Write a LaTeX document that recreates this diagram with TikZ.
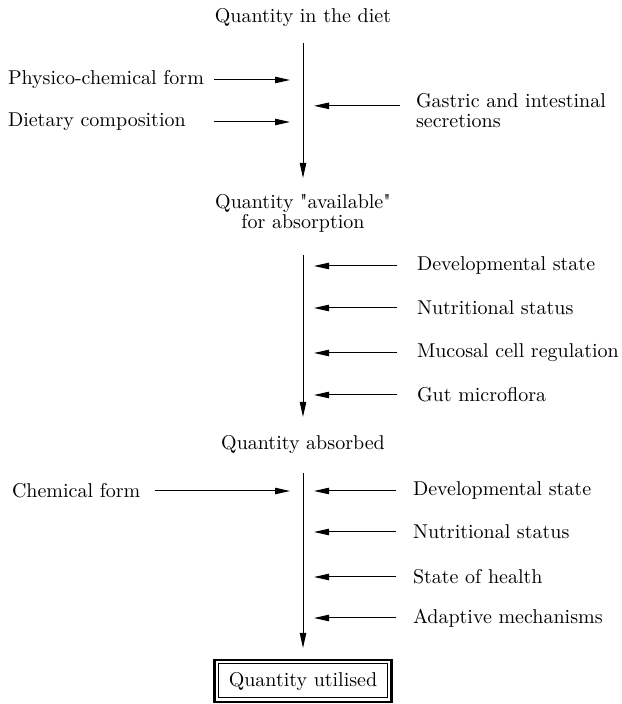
\documentclass[tikz,border=0pt]{standalone}
\usepackage{tikz}
\usetikzlibrary{arrows.meta,calc}
\tikzstyle{stage}=[inner sep=0pt, outer sep=0pt, align=center]
\tikzstyle{factor}=[inner sep=0pt, outer sep=0pt, anchor=west, align=left]
\tikzstyle{flow}=[line width=0.5pt, -{Triangle[length=7.5pt,width=3.2pt]}]
\tikzstyle{endbox}=[stage, draw, line width=1.2pt, minimum width=88.5pt, minimum height=21pt]

\begin{document}
\begin{tikzpicture}[x=0.5pt,y=0.5pt]
          \useasboundingbox (0,0) rectangle (621,704);
          % columns of the side arrows
          \coordinate (ltip) at (290,0);
          \coordinate (rtip) at (314,0);
          \coordinate (lstart) at (214,0);
          \coordinate (cstart) at (155,0);
          % stages
          \node[stage] (diet) at (303,686) {Quantity in the diet};
          \node[stage] (avail) at (303,491) {Quantity \textquotedbl available\textquotedbl\\[-2pt]for absorption};
          \node[stage] (absorbed) at (303,259) {Quantity absorbed};
          \node[endbox] (util) at (303,23) {Quantity utilised};
          \draw[line width=0.5pt] ([shift={(2pt,2pt)}]util.south west) rectangle ([shift={(-2pt,-2pt)}]util.north east);
          % main flow
          \draw[flow, shorten <=8pt, shorten >=8pt] (diet) -- (avail);
          \draw[flow, shorten <=11.5pt, shorten >=9.5pt] (avail) -- (absorbed);
          \draw[flow, shorten <=9.5pt, shorten >=6pt] (absorbed) -- (util);
          % stage 1
          \node[factor] (phys) at (8,624) {Physico-chemical form};
          \node[factor] (comp) at (8,582) {Dietary composition};
          \node[factor] (gastric) at (416,593) {Gastric and intestinal\\[-2pt]secretions};
          \draw[flow] (phys.east -| lstart) -- (phys.east -| ltip);
          \draw[flow] (comp.east -| lstart) -- (comp.east -| ltip);
          \draw[flow] ([shift={(-8pt,-6pt)}]gastric.north west) coordinate (gin) -- (gin -| rtip);
          % stage 2
          \node[factor] (dev1) at (417,438) {Developmental state};
          \node[factor] (nut1) at (417,396) {Nutritional status};
          \node[factor] (muc) at (417,351) {Mucosal cell regulation};
          \node[factor] (gut) at (417,309) {Gut microflora};
          \draw[flow] ([xshift=-10pt]dev1.west) -- (dev1.west -| rtip);
          \draw[flow] ([xshift=-10pt]nut1.west) -- (nut1.west -| rtip);
          \draw[flow] ([xshift=-10pt]muc.west) -- (muc.west -| rtip);
          \draw[flow] ([xshift=-10pt]gut.west) -- (gut.west -| rtip);
          % stage 3
          \node[factor] (chem) at (12,213) {Chemical form};
          \node[factor] (dev2) at (413,213) {Developmental state};
          \node[factor] (nut2) at (413,172) {Nutritional status};
          \node[factor] (health) at (413,127) {State of health};
          \node[factor] (adapt) at (413,86) {Adaptive mechanisms};
          \draw[flow] (chem.east -| cstart) -- (chem.east -| ltip);
          \draw[flow] ([xshift=-8.5pt]dev2.west) -- (dev2.west -| rtip);
          \draw[flow] ([xshift=-8.5pt]nut2.west) -- (nut2.west -| rtip);
          \draw[flow] ([xshift=-8.5pt]health.west) -- (health.west -| rtip);
          \draw[flow] ([xshift=-8.5pt]adapt.west) -- (adapt.west -| rtip);
        \end{tikzpicture}
\end{document}
